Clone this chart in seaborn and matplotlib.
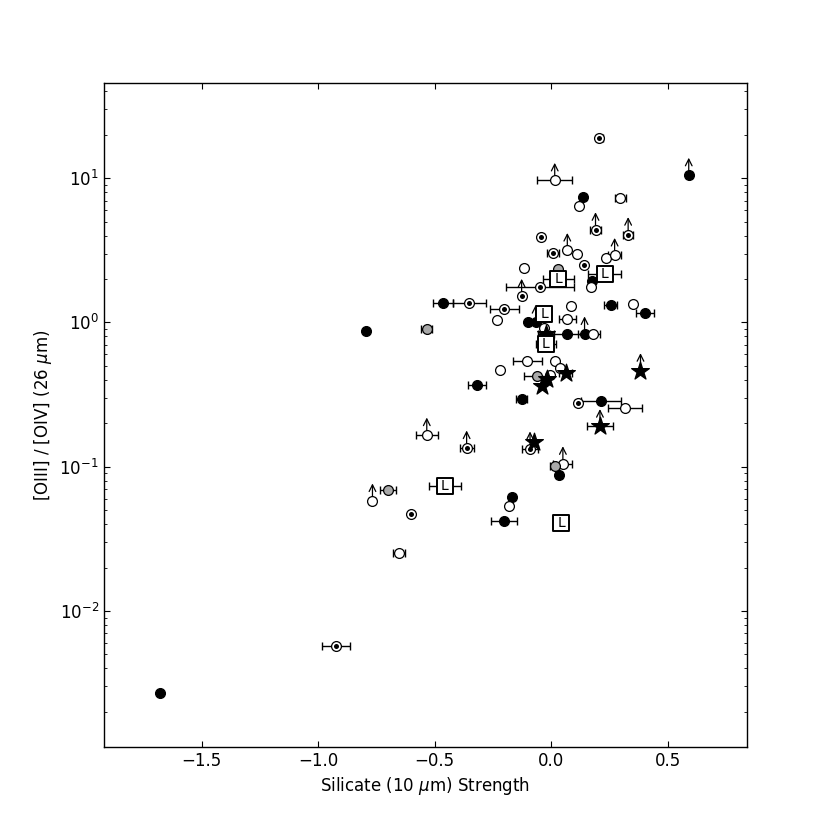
import numpy as np
import pandas as pd
import matplotlib
matplotlib.use('Agg')
import matplotlib.pyplot as plt
import seaborn as sns

# filled black circles
filled_x = [-1.678, -0.796, -0.464, -0.320, -0.127, 0.215, 0.035, -0.170, -0.204, 0.255,
            0.402, -0.098, -0.067, 0.066, 0.143, 0.138, 0.173, 0.590]
filled_y = [0.00272, 0.87, 1.36, 0.371, 0.295, 0.287, 0.087, 0.062, 0.042, 1.33,
            1.155, 1.0, 1.0, 0.834, 0.834, 7.41, 1.94, 10.5]
filled_xerr = [0, 0, 0.042, 0.039, 0.024, 0.086, 0.013, 0.013, 0.055, 0.029,
               0.037, 0, 0, 0.07, 0.03, 0.013, 0, 0.013]
filled_lim = [0, 0, 0, 0, 0, 0, 0, 0, 0, 0, 0, 0, 1, 0, 1, 0, 0, 1]

# open circles
open_x = [0.015, 0.119, 0.297, 0.069, 0.112, 0.237, 0.272, -0.117, 0.169, -0.234,
          0.085, 0.349, 0.069, -0.032, 0.180, -0.102, 0.016, -0.220, 0.037, 0.316,
          0.050, -0.180, -0.534, -0.767, -0.655, -0.006]
open_y = [9.68, 6.39, 7.30, 3.16, 2.97, 2.81, 2.92, 2.38, 1.76, 1.04,
          1.30, 1.35, 1.05, 0.92, 0.834, 0.539, 0.539, 0.469, 0.485, 0.255,
          0.105, 0.053, 0.166, 0.058, 0.0254, 0.43]
open_xerr = [0.074, 0, 0.025, 0.013, 0, 0.013, 0.029, 0.013, 0.013, 0,
             0.013, 0.013, 0.036, 0, 0.029, 0.064, 0, 0, 0.013, 0.074,
             0.041, 0, 0.048, 0.013, 0.026, 0.013]
open_lim = [1, 0, 0, 1, 0, 0, 1, 0, 0, 0,
            0, 0, 0, 0, 0, 0, 0, 0, 0, 0,
            1, 0, 1, 1, 0, 0]

# open circles with central dot
dot_x = [0.207, 0.190, 0.330, -0.045, 0.009, 0.140, -0.048, -0.127, -0.351, -0.201,
         0.114, -0.091, -0.363, -0.603, -0.923]
dot_y = [18.9, 4.40, 4.07, 3.91, 3.03, 2.52, 1.76, 1.52, 1.355, 1.245,
         0.275, 0.133, 0.135, 0.047, 0.00569]
dot_xerr = [0.013, 0.023, 0.021, 0.013, 0.025, 0, 0.146, 0.013, 0.071, 0.063,
            0.013, 0.036, 0.03, 0, 0.059]
dot_lim = [0, 1, 1, 0, 0, 0, 0, 1, 0, 0, 0, 1, 1, 0, 0]

# grey circles
grey_x = [-0.534, -0.701, -0.063, 0.015, 0.030]
grey_y = [0.90, 0.069, 0.422, 0.101, 2.36]
grey_xerr = [0.024, 0.035, 0.054, 0.02, 0]
grey_lim = [0, 0, 0, 0, 0]

# stars
star_x = [-0.024, 0.062, -0.038, -0.017, 0.383, 0.209, -0.074]
star_y = [0.834, 0.445, 0.365, 0.406, 0.464, 0.19, 0.149]
star_xerr = [0.034, 0.029, 0, 0, 0, 0.055, 0]
star_lim = [0, 0, 0, 0, 1, 1, 0]

# "L" boxes
box_x = [0.030, 0.230, -0.031, -0.024, -0.456, 0.043]
box_y = [2.01, 2.18, 1.137, 0.704, 0.073, 0.041]
box_xerr = [0.066, 0.071, 0, 0.043, 0.07, 0]
box_lim = [0, 0, 0, 0, 0, 0]

sns.set_style('white')
plt.rcParams.update({
    'font.family': ['DejaVu Sans'],
    'font.size': 12,
    'text.color': 'black',
    'axes.labelcolor': 'black',
    'axes.edgecolor': 'black',
    'axes.linewidth': 1.0,
    'xtick.direction': 'in',
    'ytick.direction': 'in',
    'xtick.top': True,
    'ytick.right': True,
    'xtick.bottom': True,
    'ytick.left': True,
    'xtick.major.size': 4,
    'ytick.major.size': 4,
    'xtick.minor.size': 2,
    'ytick.minor.size': 2,
    'xtick.color': 'black',
    'ytick.color': 'black',
    'xtick.labelsize': 12,
    'ytick.labelsize': 12,
    'axes.labelsize': 12,
})

groups = {
    'filled': (filled_x, filled_y, filled_xerr, filled_lim),
    'open': (open_x, open_y, open_xerr, open_lim),
    'dot': (dot_x, dot_y, dot_xerr, dot_lim),
    'grey': (grey_x, grey_y, grey_xerr, grey_lim),
    'star': (star_x, star_y, star_xerr, star_lim),
    'box': (box_x, box_y, box_xerr, box_lim),
}
frames = []
for name, (gx, gy, ge, gl) in groups.items():
    frames.append(pd.DataFrame({'x': gx, 'y': gy, 'xerr': ge, 'lim': gl, 'kind': name}))
df = pd.concat(frames, ignore_index=True)

fig, ax = plt.subplots(figsize=(8.3, 8.3), dpi=100)
fig.subplots_adjust(left=0.125, right=0.9, bottom=0.1, top=0.9)

# error bars behind markers
eb = df[df.xerr > 0]
ax.errorbar(eb.x, eb.y, xerr=eb.xerr, fmt='none', ecolor='black',
            elinewidth=1, capsize=3, capthick=1, zorder=1)

# lower limit arrows
for _, r in df[df.lim == 1].iterrows():
    ax.annotate('', xy=(r.x, r.y * 1.32), xytext=(r.x, r.y),
                arrowprops=dict(arrowstyle='->', lw=0.9, color='black',
                                shrinkA=0, shrinkB=0), zorder=2)

styles = {
    'filled': dict(marker='o', s=50, color='black', edgecolor='black', linewidth=0.9),
    'open': dict(marker='o', s=50, color='white', edgecolor='black', linewidth=0.9),
    'dot': dict(marker='o', s=50, color='white', edgecolor='black', linewidth=0.9),
    'grey': dict(marker='o', s=50, color='#a8a8a8', edgecolor='black', linewidth=0.9),
    'star': dict(marker='*', s=180, color='black', edgecolor='black', linewidth=0.9),
    'box': dict(marker='s', s=130, color='white', edgecolor='black', linewidth=1.4),
}
for name, st in styles.items():
    sub = df[df.kind == name]
    sns.scatterplot(data=sub, x='x', y='y', ax=ax, zorder=3, legend=False, **st)

# centre dots
sub = df[df.kind == 'dot']
sns.scatterplot(data=sub, x='x', y='y', ax=ax, marker='o', s=13, color='black',
                linewidth=0, zorder=4, legend=False)

# L labels in boxes
sub = df[df.kind == 'box']
for _, r in sub.iterrows():
    ax.text(r.x, r.y, 'L', ha='center', va='center', fontsize=10, zorder=5)

ax.set_yscale('log')
ax.set_xlim(-1.92, 0.84)
ax.set_ylim(0.00114, 45.7)
ax.set_xticks([-1.5, -1.0, -0.5, 0.0, 0.5])
ax.set_xlabel(r'Silicate (10 $\mu$m) Strength')
ax.set_ylabel(r'[OIII] / [OIV] (26 $\mu$m)')

fig.savefig('out.png', dpi=100, facecolor='white')
